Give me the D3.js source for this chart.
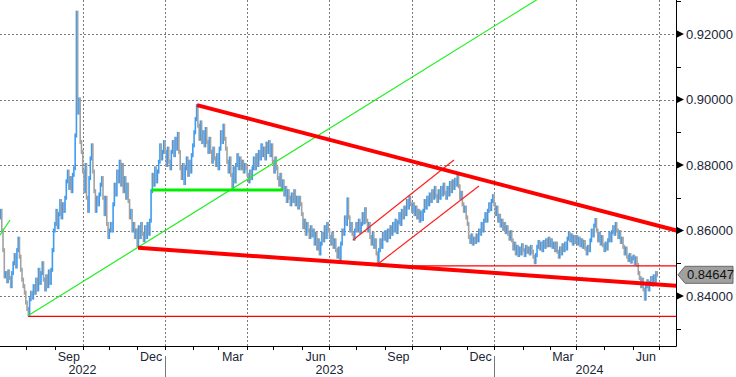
<!DOCTYPE html>
<html><head><meta charset="utf-8">
<script src="https://cdn.jsdelivr.net/npm/d3@7/dist/d3.min.js"></script>
<style>html,body{margin:0;padding:0;background:#fff;overflow:hidden}</style>
</head><body><svg id="c" width="736" height="377"></svg>
<script>
// ---- DATA (EUR/GBP daily closes, Jul 2022 - Jun 2024) ----
const closes2022 = [
 // Jul
 0.8640,0.8660,0.8600,0.8540,0.8460,0.8470,0.8445,0.8475,0.8455,0.8430,0.8470,0.8500,0.8525,0.8490,0.8540,0.8575,0.8520,0.8480,0.8450,0.8430,0.8410,
 // Aug
 0.8380,0.8360,0.8345,0.8390,0.8410,0.8395,0.8430,0.8410,0.8450,0.8420,0.8480,0.8440,0.8470,0.8500,0.8450,0.8420,0.8460,0.8430,0.8475,0.8440,0.8480,0.8540,0.8600,
 // Sep
 0.8620,0.8660,0.8610,0.8650,0.8690,0.8640,0.8680,0.8660,0.8700,0.8750,0.8780,0.8730,0.8760,0.8720,0.8770,0.8790,0.8890,0.9265,0.8960,0.9000,0.8870,0.8840,
 // Oct
 0.8780,0.8720,0.8800,0.8700,0.8660,0.8760,0.8820,0.8860,0.8780,0.8720,0.8660,0.8700,0.8680,0.8710,0.8740,0.8760,0.8700,0.8650,0.8700,0.8620,0.8580,
 // Nov
 0.8600,0.8620,0.8600,0.8680,0.8740,0.8710,0.8780,0.8750,0.8810,0.8740,0.8800,0.8720,0.8760,0.8700,0.8740,0.8690,0.8640,0.8660,0.8600,0.8620,0.8580,0.8600,
 // Dec
 0.8555,0.8610,0.8580,0.8620,0.8590,0.8570,0.8610,0.8580,0.8620,0.8590,0.8630,0.8720,0.8770,0.8740,0.8790,0.8750,0.8780,0.8810,0.8860,0.8820,0.8840,0.8870
];
const closes2023 = [
 // Jan
 0.8840,0.8800,0.8850,0.8810,0.8790,0.8840,0.8870,0.8830,0.8880,0.8850,0.8895,0.8840,0.8790,0.8760,0.8800,0.8745,0.8790,0.8820,0.8770,0.8810,0.8780,0.8830,
 // Feb
 0.8860,0.8900,0.8940,0.8980,0.8920,0.8880,0.8930,0.8870,0.8900,0.8860,0.8910,0.8870,0.8840,0.8880,0.8840,0.8810,0.8850,0.8820,0.8800,0.8830,
 // Mar
 0.8790,0.8850,0.8900,0.8870,0.8920,0.8880,0.8850,0.8810,0.8780,0.8820,0.8770,0.8735,0.8790,0.8750,0.8800,0.8830,0.8790,0.8820,0.8790,0.8810,0.8780,0.8800,0.8790,
 // Apr
 0.8770,0.8750,0.8780,0.8760,0.8790,0.8820,0.8790,0.8830,0.8800,0.8840,0.8820,0.8860,0.8830,0.8850,0.8820,0.8865,0.8840,0.8870,0.8830,0.8860,
 // May
 0.8810,0.8780,0.8820,0.8790,0.8760,0.8740,0.8770,0.8730,0.8750,0.8710,0.8730,0.8690,0.8720,0.8700,0.8680,0.8710,0.8690,0.8720,0.8680,0.8700,0.8670,0.8700,0.8680,
 // Jun
 0.8650,0.8610,0.8630,0.8590,0.8620,0.8600,0.8580,0.8610,0.8585,0.8600,0.8560,0.8590,0.8545,0.8570,0.8530,0.8560,0.8590,0.8570,0.8610,0.8580,0.8620,0.8600,
 // Jul
 0.8580,0.8560,0.8590,0.8550,0.8570,0.8540,0.8520,0.8545,0.8512,0.8560,0.8600,0.8590,0.8640,0.8620,0.8695,0.8640,0.8600,0.8620,0.8590,0.8575,0.8600,
 // Aug
 0.8620,0.8600,0.8630,0.8595,0.8620,0.8650,0.8625,0.8665,0.8630,0.8600,0.8620,0.8580,0.8560,0.8590,0.8550,0.8570,0.8530,0.8505,0.8540,0.8570,0.8550,0.8590,0.8575,
 // Sep
 0.8595,0.8570,0.8600,0.8580,0.8610,0.8590,0.8620,0.8600,0.8630,0.8595,0.8625,0.8650,0.8620,0.8660,0.8640,0.8670,0.8650,0.8690,0.8670,0.8700,0.8680,
 // Oct
 0.8660,0.8680,0.8650,0.8670,0.8640,0.8660,0.8630,0.8655,0.8635,0.8660,0.8690,0.8670,0.8700,0.8680,0.8710,0.8690,0.8720,0.8700,0.8730,0.8705,0.8690,0.8720,
 // Nov
 0.8700,0.8730,0.8710,0.8740,0.8715,0.8700,0.8730,0.8710,0.8745,0.8720,0.8750,0.8730,0.8755,0.8740,0.8768,0.8735,0.8700,0.8715,0.8680,0.8660,0.8670,0.8640,
 // Dec
 0.8620,0.8580,0.8565,0.8585,0.8560,0.8575,0.8565,0.8585,0.8570,0.8600,0.8590,0.8620,0.8600,0.8630,0.8650,0.8630,0.8660,0.8680,0.8665,0.8690,0.8705
];
const closes2024 = [
 // Jan
 0.8680,0.8650,0.8670,0.8630,0.8645,0.8615,0.8630,0.8605,0.8620,0.8595,0.8610,0.8590,0.8575,0.8595,0.8570,0.8545,0.8560,0.8530,0.8550,0.8525,0.8545,0.8530,0.8555,
 // Feb
 0.8540,0.8525,0.8550,0.8535,0.8545,0.8530,0.8550,0.8535,0.8520,0.8503,0.8525,0.8550,0.8565,0.8545,0.8560,0.8540,0.8565,0.8550,0.8570,0.8555,0.8575,
 // Mar
 0.8555,0.8570,0.8550,0.8560,0.8540,0.8560,0.8535,0.8520,0.8545,0.8530,0.8555,0.8540,0.8560,0.8545,0.8575,0.8590,0.8570,0.8585,0.8560,0.8580,0.8565,
 // Apr
 0.8580,0.8560,0.8575,0.8555,0.8570,0.8550,0.8565,0.8545,0.8530,0.8550,0.8540,0.8570,0.8600,0.8585,0.8615,0.8632,0.8600,0.8570,0.8590,0.8560,0.8580,0.8555,
 // May
 0.8540,0.8560,0.8545,0.8570,0.8590,0.8570,0.8595,0.8610,0.8590,0.8620,0.8600,0.8580,0.8595,0.8565,0.8575,0.8550,0.8530,0.8545,0.8520,0.8510,0.8525,0.8505,0.8515,
 // Jun
 0.8520,0.8500,0.8515,0.8495,0.8470,0.8455,0.8430,0.8450,0.8420,0.8392,0.8430,0.8445,0.8420,0.8440,0.8455,0.8435,0.8460,0.8445,0.8470,0.84647
];
const lastPrice = 0.84647;
const firstDay = "2022-07-01", lastDay = "2024-06-28";
const priceLabels = [0.84, 0.86, 0.88, 0.90, 0.92];
const priceMinor = [0.83, 0.85, 0.87, 0.89, 0.91, 0.93];
const monthNames = ["Jan","Feb","Mar","Apr","May","Jun","Jul","Aug","Sep","Oct","Nov","Dec"];
const labelledMonths = [2, 5, 8, 11];
const gridMonths = [0, 3, 6, 9];
// hand-drawn analysis objects: [bar index, price]
const trendGreen = [[22.7, 0.8340], [430, 0.9317]];
const trendGreenOld = [[0.6, 0.8586], [8.5, 0.8632]];
const levelGreen = [[120.5, 0.8724], [224.3, 0.8724]];
const wedgeTop = [[156.3, 0.8983], [540, 0.8595]];
const wedgeBottom = [[109.7, 0.8547], [540, 0.8430]];
const levelLow = [[22.7, 0.8338], [540, 0.8338]];
const levelMid = [[299.3, 0.8492], [540, 0.8492]];
const channelLow = [[299.3, 0.8498], [379.1, 0.8736]];
const channelHigh = [[279.6, 0.8571], [359.4, 0.8815]];

// ---- CHART ----
const closes = closes2022.concat(closes2023, closes2024);
const parse = d3.timeParse("%Y-%m-%d");
const dates = d3.timeDay.range(parse(firstDay), d3.timeDay.offset(parse(lastDay), 1))
  .filter(d => d.getDay() !== 0 && d.getDay() !== 6);

const plotR = 676, plotB = 346;
const svg = d3.select("#c");
const x = d3.scaleLinear().domain([0, 521]).range([-0.77, 658.5]);
const y = d3.scaleLinear().domain([0.84, 0.92]).range([296, 34]);
const font = "'Liberation Sans', Arial, sans-serif";
const textCol = "#1b2535";

svg.append("defs").append("clipPath").attr("id","clip")
  .append("rect").attr("x",0).attr("y",0).attr("width",plotR).attr("height",plotB);

// month boundaries
const monthStarts = [];
dates.forEach((d, i) => {
  if (i === 0 || d.getMonth() !== dates[i-1].getMonth()) monthStarts.push({i, m: d.getMonth(), yr: d.getFullYear()});
});
monthStarts.push({i: dates.length, m: 6, yr: 2024});

// grid
const grid = svg.append("g").attr("stroke","#7a7a7a").attr("stroke-width",1).attr("stroke-dasharray","2,2");
priceLabels.forEach(p => grid.append("line").attr("x1",0).attr("x2",plotR)
  .attr("y1",Math.round(y(p))+0.5).attr("y2",Math.round(y(p))+0.5));
monthStarts.filter(s => gridMonths.includes(s.m) && s.i > 0).forEach(s => {
  const xx = Math.round(x(s.i)) + 0.5;
  grid.append("line").attr("x1",xx).attr("x2",xx).attr("y1",0).attr("y2",plotB);
});

// bars (open = previous close)
const bars = svg.append("g").attr("clip-path","url(#clip)");
closes.forEach((c, i) => {
  const o = i > 0 ? closes[i-1] : c;
  const top = y(Math.max(o, c)) - 2, bot = y(Math.min(o, c)) + 2;
  bars.append("rect").attr("x", x(i) - 0.8).attr("width", 1.6)
    .attr("y", top).attr("height", Math.max(2, bot - top))
    .attr("fill", c >= o ? "#3d9cf2" : "#a2a2a2");
});

// analysis objects
const line = d3.line().x(d => x(d[0])).y(d => y(d[1]));
const obj = svg.append("g").attr("clip-path","url(#clip)").attr("fill","none");
obj.append("path").attr("d", line(levelLow)).attr("stroke","#ff0000").attr("stroke-width",1.2);
obj.append("path").attr("d", line(levelMid)).attr("stroke","#ff0000").attr("stroke-width",1.2);
obj.append("path").attr("d", line(channelLow)).attr("stroke","#ff2020").attr("stroke-width",1.2);
obj.append("path").attr("d", line(channelHigh)).attr("stroke","#ff2020").attr("stroke-width",1.2);
obj.append("path").attr("d", line(trendGreen)).attr("stroke","#22ee22").attr("stroke-width",1.2);
obj.append("path").attr("d", line(trendGreenOld)).attr("stroke","#22ee22").attr("stroke-width",1.2);
obj.append("path").attr("d", line(levelGreen)).attr("stroke","#00ee00").attr("stroke-width",3);
obj.append("path").attr("d", line(wedgeTop)).attr("stroke","#ff0000").attr("stroke-width",4);
obj.append("path").attr("d", line(wedgeBottom)).attr("stroke","#ff0000").attr("stroke-width",4);

// axes lines
svg.append("line").attr("x1",0).attr("x2",plotR+0.5).attr("y1",plotB+0.5).attr("y2",plotB+0.5).attr("stroke","#000");
svg.append("line").attr("x1",plotR+0.5).attr("x2",plotR+0.5).attr("y1",0).attr("y2",plotB+0.5).attr("stroke","#000");

// x ticks & labels
monthStarts.forEach(s => {
  const xx = Math.round(x(s.i)) + 0.5;
  svg.append("line").attr("x1",xx).attr("x2",xx).attr("y1",plotB).attr("y2",plotB+4).attr("stroke","#000");
});
monthStarts.forEach((s, k) => {
  if (k === monthStarts.length - 1 || !labelledMonths.includes(s.m)) return;
  const cx = (x(s.i) + x(monthStarts[k+1].i)) / 2;
  svg.append("text").attr("x",cx).attr("y",361).attr("text-anchor","middle")
    .attr("font-family",font).attr("font-size",12.5).attr("fill",textCol).text(monthNames[s.m]);
});
// years
const yearStarts = monthStarts.filter((s,k) => k < monthStarts.length-1 && (k === 0 || s.m === 0));
yearStarts.forEach((s, k) => {
  const x0 = k === 0 ? 0 : x(s.i);
  const x1 = k < yearStarts.length - 1 ? x(yearStarts[k+1].i) : 685;
  if (k > 0) {
    const xx = Math.round(x(s.i)) + 0.5;
    svg.append("line").attr("x1",xx).attr("x2",xx).attr("y1",356).attr("y2",377).attr("stroke","#777");
  }
  svg.append("text").attr("x",(x0+x1)/2).attr("y",374).attr("text-anchor","middle")
    .attr("font-family",font).attr("font-size",12.5).attr("fill",textCol).text(s.yr);
});

// y ticks & labels
priceMinor.forEach(p => {
  const yy = Math.round(y(p)) + 0.5;
  svg.append("line").attr("x1",plotR).attr("x2",plotR+5).attr("y1",yy).attr("y2",yy).attr("stroke","#000");
});
priceLabels.forEach(p => {
  const yy = y(p);
  svg.append("path").attr("d",`M${plotR+1},${yy-3.5}L${plotR+8},${yy}L${plotR+1},${yy+3.5}Z`).attr("fill","#000");
  svg.append("text").attr("x",686).attr("y",yy).attr("dy","0.36em")
    .attr("font-family",font).attr("font-size",13).attr("fill",textCol).text(p.toFixed(5));
});

// current price tag
const yl = y(lastPrice);
svg.append("path").attr("d",`M${plotR+2},${yl}L${plotR+9},${yl-8.5}L733,${yl-8.5}L733,${yl+8.5}L${plotR+9},${yl+8.5}Z`)
  .attr("fill","#a0a0a0").attr("stroke","#6a6a6a");
svg.append("text").attr("x",687).attr("y",yl).attr("dy","0.36em")
  .attr("font-family",font).attr("font-size",13).attr("fill","#111").text(lastPrice.toFixed(5));
</script></body></html>
